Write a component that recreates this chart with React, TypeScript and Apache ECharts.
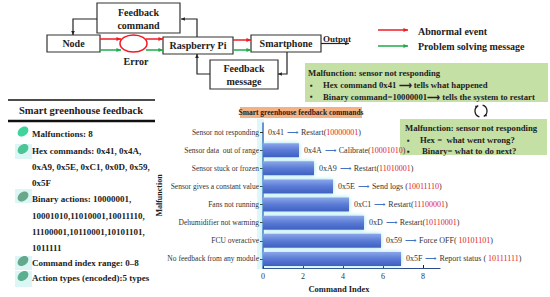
import React, { useEffect, useRef } from 'react';
import * as echarts from 'echarts';

const categories = [
  'Sensor not responding',
  'Sensor data  out of range',
  'Sensor stuck or frozen',
  'Sensor gives a constant value',
  'Fans not running',
  'Dehumidifier not warming',
  'FCU overactive',
  'No feedback from any module',
];
const commandIndex = [0, 1.8, 2.55, 3.5, 4.3, 5.05, 5.9, 6.9];
const hexCodes = ['0x41', '0x4A', '0xA9', '0x5E', '0xC1', '0xD', '0x59', '0x5F'];
const actions = ['Restart(', 'Calibrate(', 'Restart(', 'Send logs (', 'Restart(', 'Restart(', 'Force OFF( ', 'Report status ( '];
const binaries = ['10000001', '10001010', '11010001', '10011110', '11100001', '10110001', '10101101', '10111111'];
const xTicks = [0, 2, 4, 6, 8];

const summaryLines = [
  'Malfunctions: 8',
  'Hex commands: 0x41, 0x4A,',
  '0xA9, 0x5E, 0xC1, 0x0D, 0x59,',
  '0x5F',
  'Binary actions: 10000001,',
  '10001010,11010001,10011110,',
  '11100001,10110001,10101101,',
  '1011111',
  'Command index range: 0\u20138',
  'Action types (encoded):5 types',
];

const SERIF = 'Liberation Serif, serif';
const RED = '#ee1c25';
const GREEN = '#1faa4a';
const BLACK = '#222';

function txt(text: string, x: number, y: number, size: number, opts: any = {}) {
  const align = opts.align || 'left';
  return {
    type: 'text',
    x,
    y,
    silent: true,
    style: {
      text,
      fontSize: size,
      fontWeight: opts.weight || 'bold',
      fontFamily: SERIF,
      fill: opts.fill || BLACK,
      align,
      textAlign: align,
      verticalAlign: 'middle',
      textVerticalAlign: 'middle',
    },
  };
}

function head(x: number, y: number, dx: number, dy: number, color: string, size = 4) {
  const len = Math.sqrt(dx * dx + dy * dy) || 1;
  const ux = dx / len;
  const uy = dy / len;
  const px = -uy;
  const py = ux;
  const bx = x - ux * size * 1.3;
  const by = y - uy * size * 1.3;
  return {
    type: 'polygon',
    silent: true,
    shape: {
      points: [
        [x, y],
        [bx + px * size * 0.6, by + py * size * 0.6],
        [bx - px * size * 0.6, by - py * size * 0.6],
      ],
    },
    style: { fill: color },
  };
}

function arrow(pts: number[][], color: string, w = 1.5, size = 3.5) {
  const n = pts.length;
  const a = pts[n - 2];
  const b = pts[n - 1];
  return [
    {
      type: 'polyline',
      silent: true,
      shape: { points: pts },
      style: { stroke: color, lineWidth: w, fill: null },
    },
    head(b[0], b[1], b[0] - a[0], b[1] - a[1], color, size),
  ];
}

function box(x: number, y: number, w: number, h: number) {
  return {
    type: 'rect',
    silent: true,
    shape: { x, y, width: w, height: h },
    style: { fill: '#fff', stroke: '#333', lineWidth: 1.2 },
  };
}

function leaf(cx: number, cy: number, color: string) {
  return {
    type: 'ellipse',
    silent: true,
    x: cx,
    y: cy,
    rotation: 0.7,
    shape: { cx: 0, cy: 0, rx: 6, ry: 4.3 },
    style: { fill: color },
  };
}

function buildGraphic() {
  const g: any[] = [];
  // ---- top diagram ----
  g.push(box(97, 3, 83, 30));
  g.push(box(47, 35, 53, 17));
  g.push(box(163, 37, 70, 17));
  g.push(box(251, 35, 70, 17));
  g.push(box(210, 60, 68, 29));
  g.push(txt('Feedback', 138.5, 12.5, 10, { align: 'center' }));
  g.push(txt('command', 138.5, 25, 10, { align: 'center' }));
  g.push(txt('Node', 73.5, 43.5, 10, { align: 'center' }));
  g.push(txt('Raspberry Pi', 198, 45.5, 10, { align: 'center' }));
  g.push(txt('Smartphone', 286, 43.5, 10, { align: 'center' }));
  g.push(txt('Feedback', 244, 68.5, 10, { align: 'center' }));
  g.push(txt('message', 244, 81, 10, { align: 'center' }));
  g.push(txt('Error', 136, 61, 10, { align: 'center' }));
  g.push(txt('Output', 323, 38.5, 9));
  g.push({
    type: 'ellipse',
    silent: true,
    shape: { cx: 133.5, cy: 43.5, rx: 13.5, ry: 8.5 },
    style: { fill: null, stroke: RED, lineWidth: 1.5 },
  });
  g.push(...arrow([[100, 39], [121, 39]], RED));
  g.push(...arrow([[146, 39], [163, 39]], RED));
  g.push(...arrow([[233, 40], [251, 40]], RED));
  g.push(...arrow([[100, 50], [121, 50]], GREEN));
  g.push(...arrow([[146, 50], [163, 50]], GREEN));
  g.push(...arrow([[233, 50], [251, 50]], GREEN));
  g.push(...arrow([[97, 19], [73, 19], [73, 35]], BLACK, 1.2, 3));
  g.push(...arrow([[197, 37], [197, 19], [181, 19]], BLACK, 1.2, 3));
  g.push(...arrow([[210, 74], [197, 74], [197, 54]], BLACK, 1.2, 3));
  g.push(...arrow([[287, 52], [287, 74], [278, 74]], BLACK, 1.2, 3));
  g.push(...arrow([[321, 43.5], [349, 43.5]], BLACK, 1.2, 3));
  // legend
  g.push(...arrow([[378, 30], [408, 30]], RED));
  g.push(...arrow([[378, 46], [408, 46]], GREEN));
  g.push(txt('Abnormal event', 418, 31, 10));
  g.push(txt('Problem solving message', 418, 46.5, 10));

  // ---- green boxes ----
  g.push({ type: 'rect', silent: true, shape: { x: 305, y: 63, width: 243, height: 39 }, style: { fill: '#c5e0a5' } });
  g.push(txt('Malfunction: sensor not responding', 308, 73, 8.7));
  g.push(txt('\u25AA', 310, 85, 8));
  g.push(txt('Hex command 0x41 \u27F6 tells what happened', 323, 85, 8.7));
  g.push(txt('\u25AA', 310, 96.5, 8));
  g.push(txt('Binary command=10000001\u27F6 tells the system to restart', 323, 96.5, 8.7));

  g.push({ type: 'rect', silent: true, shape: { x: 400, y: 119, width: 147, height: 36 }, style: { fill: '#c5e0a5' } });
  g.push(txt('Malfunction: sensor not responding', 405, 128, 8.7));
  g.push(txt('\u25AA', 407, 140, 8));
  g.push(txt('Hex =  what went wrong?', 420, 140, 8.7));
  g.push(txt('\u25AA', 407, 151, 8));
  g.push(txt('Binary= what to do next?', 422, 151, 8.7));

  // cycle icon
  const cx = 481, cy = 111, r = 6;
  g.push({ type: 'arc', silent: true, shape: { cx, cy, r, startAngle: -1.3, endAngle: 1.1, clockwise: true }, style: { stroke: BLACK, lineWidth: 1.3, fill: null } });
  g.push({ type: 'arc', silent: true, shape: { cx, cy, r, startAngle: 1.84, endAngle: 4.24, clockwise: true }, style: { stroke: BLACK, lineWidth: 1.3, fill: null } });
  g.push(head(cx + r * Math.cos(1.1), cy + r * Math.sin(1.1), -Math.sin(1.1), Math.cos(1.1), BLACK, 2.4));
  g.push(head(cx + r * Math.cos(4.24), cy + r * Math.sin(4.24), -Math.sin(4.24), Math.cos(4.24), BLACK, 2.4));

  // ---- left summary panel ----
  g.push({ type: 'line', silent: true, shape: { x1: 8, y1: 100, x2: 155, y2: 100 }, style: { stroke: '#111', lineWidth: 1.5 } });
  g.push(txt('Smart greenhouse feedback', 81, 110.5, 10.5, { align: 'center' }));
  g.push({ type: 'line', silent: true, shape: { x1: 8, y1: 121, x2: 155, y2: 121 }, style: { stroke: '#111', lineWidth: 2.5 } });
  const bgs = [[15, 144, 17, 15], [15, 189, 17, 14], [15, 256, 17, 14], [15, 271, 17, 16]];
  bgs.forEach((b) => g.push({ type: 'rect', silent: true, shape: { x: b[0], y: b[1], width: b[2], height: b[3] }, style: { fill: '#dcf6f6' } }));
  g.push(leaf(23, 131.5, '#3ed49b'));
  g.push(leaf(23, 149, '#4cc496'));
  g.push(leaf(23, 196.5, '#6aa88c'));
  g.push(leaf(23, 261, '#63aa8c'));
  g.push(leaf(23, 276, '#5cb08f'));
  const ys = [134, 151, 167, 183, 199, 216, 232, 248, 263, 278];
  summaryLines.forEach((s, i) => g.push(txt(s, 32, ys[i], 9)));

  // ---- bar chart decorations ----
  g.push({ type: 'rect', silent: true, z: -1, shape: { x: 257, y: 119, width: 7, height: 150 }, style: { fill: '#e0f7f9' } });
  g.push({ type: 'rect', silent: true, shape: { x: 240, y: 107, width: 122, height: 11 }, style: { fill: '#f4b183' } });
  g.push(txt('Smart greenhouse feedback commands', 301, 112.5, 7.5, { align: 'center' }));
  return g;
}

export default function App() {
  const ref = useRef<HTMLDivElement>(null);
  useEffect(() => {
    if (!ref.current) return;
    const chart = echarts.init(ref.current, undefined, { renderer: 'svg' });
    const option: any = {
      animation: false,
      backgroundColor: '#fff',
      textStyle: { fontFamily: SERIF },
      grid: { left: 263, top: 123, width: 177, height: 145, containLabel: false },
      xAxis: {
        type: 'value',
        min: 0,
        max: 8.85,
        axisLine: { show: true, lineStyle: { color: '#2e4a8f', width: 1.2 } },
        axisTick: { show: true, inside: true, length: 3, customValues: xTicks, lineStyle: { color: '#222' } },
        axisLabel: { customValues: xTicks, fontSize: 8, fontFamily: SERIF, color: '#333', margin: 4 },
        splitLine: { show: false },
        name: 'Command Index',
        nameLocation: 'middle',
        nameGap: 16,
        nameTextStyle: { fontSize: 8.5, fontWeight: 'bold', fontFamily: SERIF, color: '#222', padding: [0, 25, 0, 0] },
      },
      yAxis: {
        type: 'category',
        data: categories,
        inverse: true,
        axisLine: { show: true, lineStyle: { color: '#4472c4', width: 1.5 } },
        axisTick: { show: true, alignWithLabel: true, length: 3, lineStyle: { color: '#333' } },
        axisLabel: { fontSize: 7.5, fontFamily: SERIF, color: '#333', margin: 4 },
        name: 'Malfunction',
        nameLocation: 'middle',
        nameGap: 92,
        nameRotate: 90,
        nameTextStyle: { fontSize: 8, fontWeight: 'bold', fontFamily: SERIF, color: '#222' },
      },
      series: [
        {
          type: 'bar',
          data: commandIndex,
          barWidth: 14,
          itemStyle: {
            color: new echarts.graphic.LinearGradient(0, 0, 0, 1, [
              { offset: 0, color: '#8ba6e8' },
              { offset: 0.5, color: '#5a7bd6' },
              { offset: 1, color: '#3f5fc0' },
            ]),
            shadowColor: 'rgba(120,220,235,0.8)',
            shadowBlur: 4,
          },
          label: {
            show: true,
            position: 'right',
            distance: 5,
            formatter: (p: any) => {
              const i = p.dataIndex;
              return `{h|${hexCodes[i]}} {ar|\u27F6} {h|${actions[i]}}{b|${binaries[i]}}{h|)}`;
            },
            rich: {
              h: { fontSize: 8, fontFamily: SERIF, color: '#333' },
              ar: { fontSize: 8, color: '#4472c4' },
              b: { fontSize: 8, fontFamily: SERIF, color: '#e0201f' },
            },
          },
        },
      ],
      graphic: buildGraphic(),
    };
    chart.setOption(option);
    return () => chart.dispose();
  }, []);
  return <div ref={ref} style={{ position: 'absolute', left: 0, top: 0, width: 550, height: 297 }} />;
}
